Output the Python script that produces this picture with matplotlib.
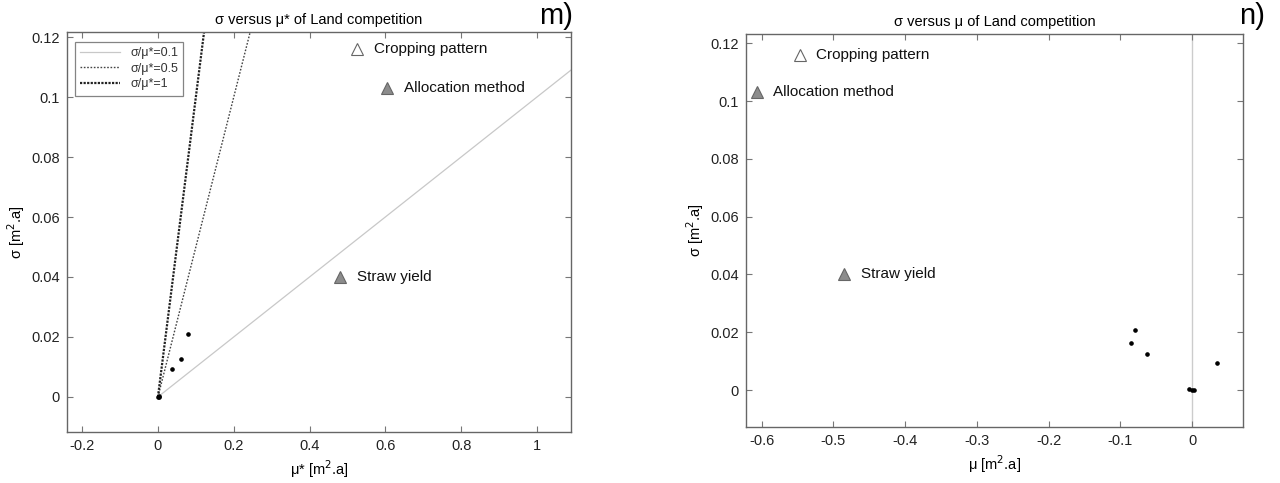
import matplotlib
matplotlib.use("Agg")
import matplotlib.pyplot as plt
import numpy as np

plt.rcParams['font.family'] = ['Liberation Sans', 'DejaVu Sans']

# ---- data ----
factor_names = ["Cropping pattern", "Allocation method", "Straw yield"]
mu_star_main = [0.525, 0.605, 0.48]
sigma_main = [0.116, 0.103, 0.040]
mu_main = [-0.547, -0.607, -0.485]
main_filled = [False, True, True]

mu_star_small = [0.08, 0.062, 0.036, 0.0, 0.002, 0.004]
sigma_small = [0.021, 0.0125, 0.0093, 0.0, 0.0003, 0.0]
mu_small = [-0.0795, -0.0847, -0.0623, 0.0353, -0.004, 0.0, 0.002]
sigma_small_r = [0.0207, 0.0163, 0.0125, 0.0093, 0.0005, 0.0, 0.0]

ratios = [0.1, 0.5, 1]
ratio_labels = ["σ/μ*=0.1", "σ/μ*=0.5", "σ/μ*=1"]

left_xticks = [-0.2, 0, 0.2, 0.4, 0.6, 0.8, 1]
right_xticks = [-0.6, -0.5, -0.4, -0.3, -0.2, -0.1, 0]
yticks = [0, 0.02, 0.04, 0.06, 0.08, 0.1, 0.12]

W, H = 1280, 483
fig = plt.figure(figsize=(W/100, H/100), dpi=100)

def ax_at(x0, y0, x1, y1):
    return fig.add_axes([x0/W, 1 - y1/H, (x1-x0)/W, (y1-y0)/H])

axL = ax_at(67, 32, 571, 432)
axR = ax_at(746, 34, 1243, 427)

for ax in (axL, axR):
    for s in ax.spines.values():
        s.set_color('#666666')
        s.set_linewidth(1.0)
    ax.tick_params(direction='in', top=True, right=True, length=4,
                   color='#777777', labelsize=10.5, labelcolor='#222222', pad=5)
    ax.set_yticks(yticks)
    ax.set_yticklabels([f"{v:g}" for v in yticks])

# ---- left panel ----
styles = [dict(color='#c8c8c8', lw=0.9, ls='-'),
          dict(color='#444444', lw=1.0, ls=(0, (1.2, 1.2))),
          dict(color='#222222', lw=1.6, ls=(0, (1, 0.6)))]
xs = np.array([0.0, 1.2])
for r, lab, st in zip(ratios, ratio_labels, styles):
    axL.plot(xs, r*xs, label=lab, **st)

for x, y, name, f in zip(mu_star_main, sigma_main, factor_names, main_filled):
    axL.plot([x], [y], marker='^', ms=8, mfc='#8c8c8c' if f else 'white',
             mec='#666666', mew=0.8, ls='none', zorder=4)
    axL.annotate(name, (x, y), xytext=(12, 0), textcoords='offset points',
                 va='center', ha='left', fontsize=11, color='#111111')
axL.plot(mu_star_small, sigma_small, 'o', ms=2.3, color='black', zorder=5)

axL.set_xlim(-0.24, 1.09)
axL.set_ylim(-0.0117, 0.1217)
axL.set_xticks(left_xticks)
axL.set_xticklabels([f"{v:g}" for v in left_xticks])
axL.set_xlabel("μ* [m$^2$.a]", fontsize=10.5, labelpad=4)
axL.set_ylabel("σ [m$^2$.a]", fontsize=10.5, labelpad=3)
axL.set_title("σ versus μ* of Land competition", fontsize=10.5, pad=6)
leg = axL.legend(loc='upper left', fontsize=9, frameon=True, fancybox=False,
                 edgecolor='#666666', handlelength=3.2, borderpad=0.4,
                 labelspacing=0.3, borderaxespad=0,
                 bbox_to_anchor=(0.016, 0.975))
leg.get_frame().set_linewidth(0.9)
for t in leg.get_texts():
    t.set_color('#333333')
fig.text(556/W, 1 - 16/H, "m)", fontsize=21, ha='center', va='center')

# ---- right panel ----
axR.axvline(0, color='#cccccc', lw=1.0, zorder=1)
for x, y, name, f in zip(mu_main, sigma_main, factor_names, main_filled):
    axR.plot([x], [y], marker='^', ms=8, mfc='#8c8c8c' if f else 'white',
             mec='#666666', mew=0.8, ls='none', zorder=4)
    axR.annotate(name, (x, y), xytext=(12, 0), textcoords='offset points',
                 va='center', ha='left', fontsize=11, color='#111111')
axR.plot(mu_small, sigma_small_r, 'o', ms=2.3, color='black', zorder=5)

axR.set_xlim(-0.622, 0.071)
axR.set_ylim(-0.0128, 0.1232)
axR.set_xticks(right_xticks)
axR.set_xticklabels([f"{v:g}" for v in right_xticks])
axR.set_xlabel("μ [m$^2$.a]", fontsize=10.5, labelpad=4)
axR.set_ylabel("σ [m$^2$.a]", fontsize=10.5, labelpad=3)
axR.set_title("σ versus μ of Land competition", fontsize=10.5, pad=6)
fig.text(1252/W, 1 - 16/H, "n)", fontsize=21, ha='center', va='center')

fig.savefig("out.png", dpi=100)
